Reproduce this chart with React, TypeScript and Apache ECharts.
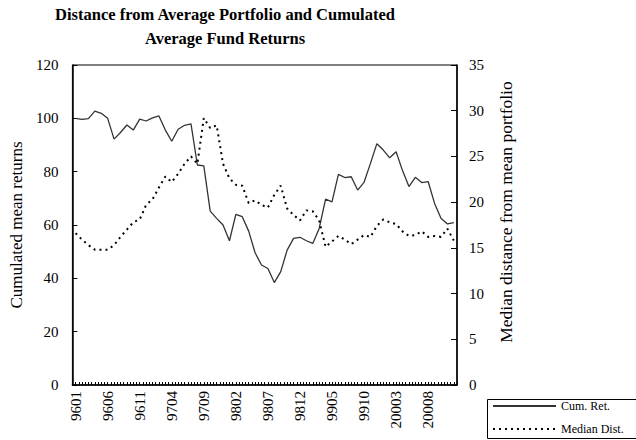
import React, { useEffect, useRef } from "react";
import * as echarts from "echarts";

const months = [
  "9601", "9602", "9603", "9604", "9605", "9606", "9607", "9608", "9609", "9610", "9611", "9612",
  "9701", "9702", "9703", "9704", "9705", "9706", "9707", "9708", "9709", "9710", "9711", "9712",
  "9801", "9802", "9803", "9804", "9805", "9806", "9807", "9808", "9809", "9810", "9811", "9812",
  "9901", "9902", "9903", "9904", "9905", "9906", "9907", "9908", "9909", "9910", "9911", "9912",
  "20001", "20002", "20003", "20004", "20005", "20006", "20007", "20008", "20009", "200010", "200011", "200012",
];

const cumRet = [
  100.0, 99.6, 99.9, 102.7, 101.9, 100.0, 92.2, 94.7, 97.5, 95.6, 99.7, 99.0,
  100.2, 100.9, 95.6, 91.4, 95.9, 97.4, 97.9, 82.5, 82.2, 65.2, 62.5, 60.0,
  54.1, 64.0, 63.1, 57.7, 49.6, 45.0, 43.7, 38.4, 42.5, 50.6, 55.0, 55.4,
  54.1, 53.1, 58.7, 69.7, 68.7, 79.0, 77.8, 78.1, 73.1, 76.0, 83.1, 90.5,
  88.1, 85.2, 87.5, 80.4, 74.4, 77.9, 75.9, 76.3, 68.1, 62.5, 60.4, 60.9,
];

const medDist = [
  16.6, 15.9, 15.3, 14.8, 14.8, 14.8, 15.3, 16.2, 17.0, 17.8, 18.1, 19.7,
  20.3, 21.6, 22.8, 22.2, 23.1, 24.2, 25.0, 24.2, 29.2, 28.1, 28.4, 24.2,
  22.6, 21.9, 21.8, 19.9, 20.2, 19.7, 19.4, 20.8, 21.8, 19.3, 18.6, 18.0,
  19.1, 19.0, 18.0, 15.1, 15.7, 16.3, 15.9, 15.4, 15.9, 16.4, 16.2, 17.4,
  18.1, 17.8, 17.6, 16.8, 16.3, 16.4, 16.8, 16.2, 16.3, 16.2, 17.1, 15.8,
];

const seriesNames = ["Cum. Ret.", "Median Dist."];
const titleLines = ["Distance from Average Portfolio and Cumulated", "Average Fund Returns"];
const leftAxisName = "Cumulated mean returns";
const rightAxisName = "Median distance from mean portfolio";

// half-month minor tick slots (purely for tick marks)
const halfSlots = new Array(months.length * 2).fill("");

const FONT = '"Liberation Serif", "Times New Roman", serif';

export default function App() {
  const ref = useRef<HTMLDivElement>(null);
  useEffect(() => {
    const chart = echarts.init(ref.current!, null, { renderer: "svg" });
    chart.setOption({
      animation: false,
      textStyle: { fontFamily: FONT },
      graphic: [
        {
          type: "text",
          x: 225,
          y: 14,
          style: {
            text: titleLines[0],
            font: 'bold 16.5px "Liberation Serif"',
            fill: "#000",
            textAlign: "center",
            textVerticalAlign: "middle",
          },
        },
        {
          type: "text",
          x: 225,
          y: 38,
          style: {
            text: titleLines[1],
            font: 'bold 16.5px "Liberation Serif"',
            fill: "#000",
            textAlign: "center",
            textVerticalAlign: "middle",
          },
        },
        {
          type: "rect",
          shape: { x: 487.5, y: 399.5, width: 170, height: 39 },
          style: { fill: "none", stroke: "#000", lineWidth: 1 },
        },
      ],
      legend: {
        orient: "vertical",
        left: 490,
        top: 400,
        padding: [0, 0, 0, 2],
        itemWidth: 63,
        itemHeight: 10,
        itemGap: 11,
        data: seriesNames,
        itemStyle: { opacity: 0 },
        textStyle: { fontFamily: FONT, fontSize: 12, color: "#000" },
      },
      grid: {
        left: 67,
        right: 179,
        top: 65,
        bottom: 55,
        show: true,
        borderColor: "#000",
        borderWidth: 1,
        backgroundColor: "transparent",
      },
      xAxis: [
        {
          type: "category",
          data: months,
          boundaryGap: true,
          axisLine: { lineStyle: { color: "#000", width: 1.5 } },
          axisTick: { show: false },
          axisLabel: {
            interval: 4,
            rotate: 90,
            margin: 6,
            fontSize: 15,
            color: "#000",
            fontFamily: FONT,
          },
        },
        {
          type: "category",
          data: halfSlots,
          position: "bottom",
          boundaryGap: true,
          axisLine: { show: false },
          axisTick: { show: true, inside: true, length: 3, interval: 0, lineStyle: { color: "#000" } },
          axisLabel: { show: false },
          splitLine: { show: false },
        },
      ],
      yAxis: [
        {
          type: "value",
          min: 0,
          max: 120,
          interval: 20,
          position: "left",
          name: leftAxisName,
          nameLocation: "middle",
          nameRotate: 90,
          nameGap: 46,
          nameTextStyle: { fontSize: 17, fontFamily: FONT, color: "#000" },
          axisLine: { show: true, lineStyle: { color: "#000", width: 1.5 } },
          axisTick: { show: true, inside: true, length: 5, lineStyle: { color: "#000" } },
          axisLabel: { margin: 14, fontSize: 15, color: "#000", fontFamily: FONT },
          splitLine: { show: false },
        },
        {
          type: "value",
          min: 0,
          max: 35,
          interval: 5,
          position: "right",
          name: rightAxisName,
          nameLocation: "middle",
          nameRotate: 90,
          nameGap: 40,
          nameTextStyle: { fontSize: 17.5, fontFamily: FONT, color: "#000", padding: [0, 0, 0, 26] },
          axisLine: { show: true, lineStyle: { color: "#000", width: 1.5 } },
          axisTick: { show: true, inside: true, length: 6, lineStyle: { color: "#000" } },
          axisLabel: { margin: 12, fontSize: 15, color: "#000", fontFamily: FONT },
          splitLine: { show: false },
        },
      ],
      series: [
        {
          name: seriesNames[0],
          type: "line",
          xAxisIndex: 0,
          yAxisIndex: 0,
          data: cumRet,
          symbol: "none",
          lineStyle: { color: "#333", width: 1.3 },
          itemStyle: { color: "#333" },
        },
        {
          name: seriesNames[1],
          type: "line",
          xAxisIndex: 0,
          yAxisIndex: 1,
          data: medDist,
          symbol: "none",
          lineStyle: { color: "#000", width: 2, type: [2, 4] },
          itemStyle: { color: "#000" },
        },
      ],
    });
    return () => chart.dispose();
  }, []);
  return (
    <div
      ref={ref}
      style={{ position: "fixed", left: 0, top: 0, width: 636, height: 440, background: "#fff" }}
    />
  );
}
